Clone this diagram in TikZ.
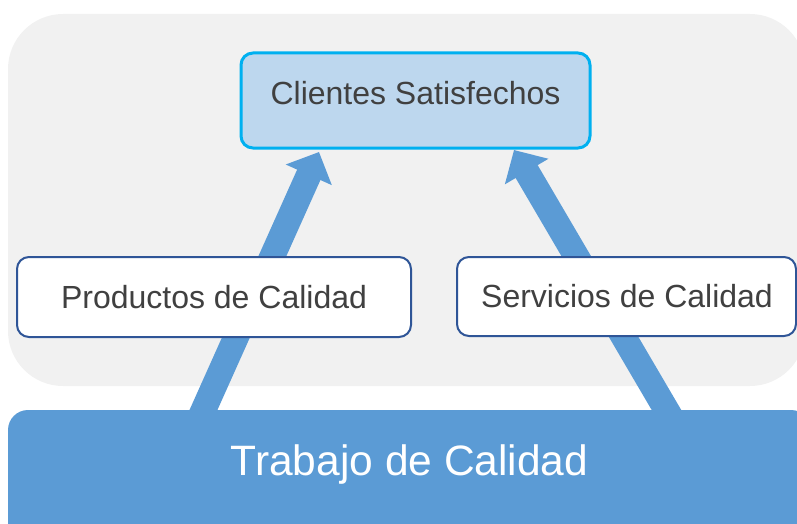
\documentclass[tikz,border=0pt]{standalone}
\usepackage{fontspec}
\setmainfont{Liberation Sans}
\usetikzlibrary{arrows.meta}
\definecolor{bggray}{HTML}{F1F1F1}
\definecolor{arrblue}{HTML}{5B9BD5}
\definecolor{topfill}{HTML}{BDD7EE}
\definecolor{topline}{HTML}{00B0F0}
\definecolor{boxline}{HTML}{2F5597}
\definecolor{txtgray}{HTML}{404040}
\tikzset{
  panel/.style={fill=bggray, draw=none, rounded corners=55pt},
  basebox/.style={fill=arrblue, draw=none, rounded corners=20pt},
  topbox/.style={fill=topfill, draw=topline, line width=3pt, rounded corners=12pt},
  midbox/.style={fill=white, draw=boxline, line width=2pt, rounded corners=12pt},
  lbl/.style={text=txtgray, font=\fontsize{32}{38}\selectfont, inner sep=0pt},
  biglbl/.style={text=white, font=\fontsize{42.5}{50}\selectfont, inner sep=0pt},
  fatarrow/.style={draw=arrblue, line width=25.5pt, -{Triangle[length=25pt,width=49pt]}},
}
\begin{document}
\begin{tikzpicture}[x=1pt,y=-1pt]
\useasboundingbox (0,0) rectangle (797,524);
\begin{scope}
\clip (0,0) rectangle (797,524);
\path[panel] (8,14) rectangle (805,386);
\coordinate (l0) at (194.5,430);
\coordinate (l1) at (319,152);
\coordinate (r0) at (678.2,430);
\coordinate (r1) at (514,150);
\draw[fatarrow] (l0) -- (l1);
\draw[fatarrow] (r0) -- (r1);
\path[basebox] (8,410) rectangle (811,560);
\node[biglbl, anchor=base] (trab) at (409.5,475) {Trabajo de Calidad};
\draw[topbox] (241,53) rectangle (590,148);
\node[lbl, anchor=base] (cs) at (415.5,105) {Clientes Satisfechos};
\draw[midbox] (17,257) rectangle (411,337);
\node[lbl, anchor=base] (pc) at (214,308) {Productos de Calidad};
\draw[midbox] (457,257) rectangle (796,336);
\node[lbl, anchor=base] (sc) at (627,307.5) {Servicios de Calidad};
\end{scope}
\end{tikzpicture}
\end{document}
